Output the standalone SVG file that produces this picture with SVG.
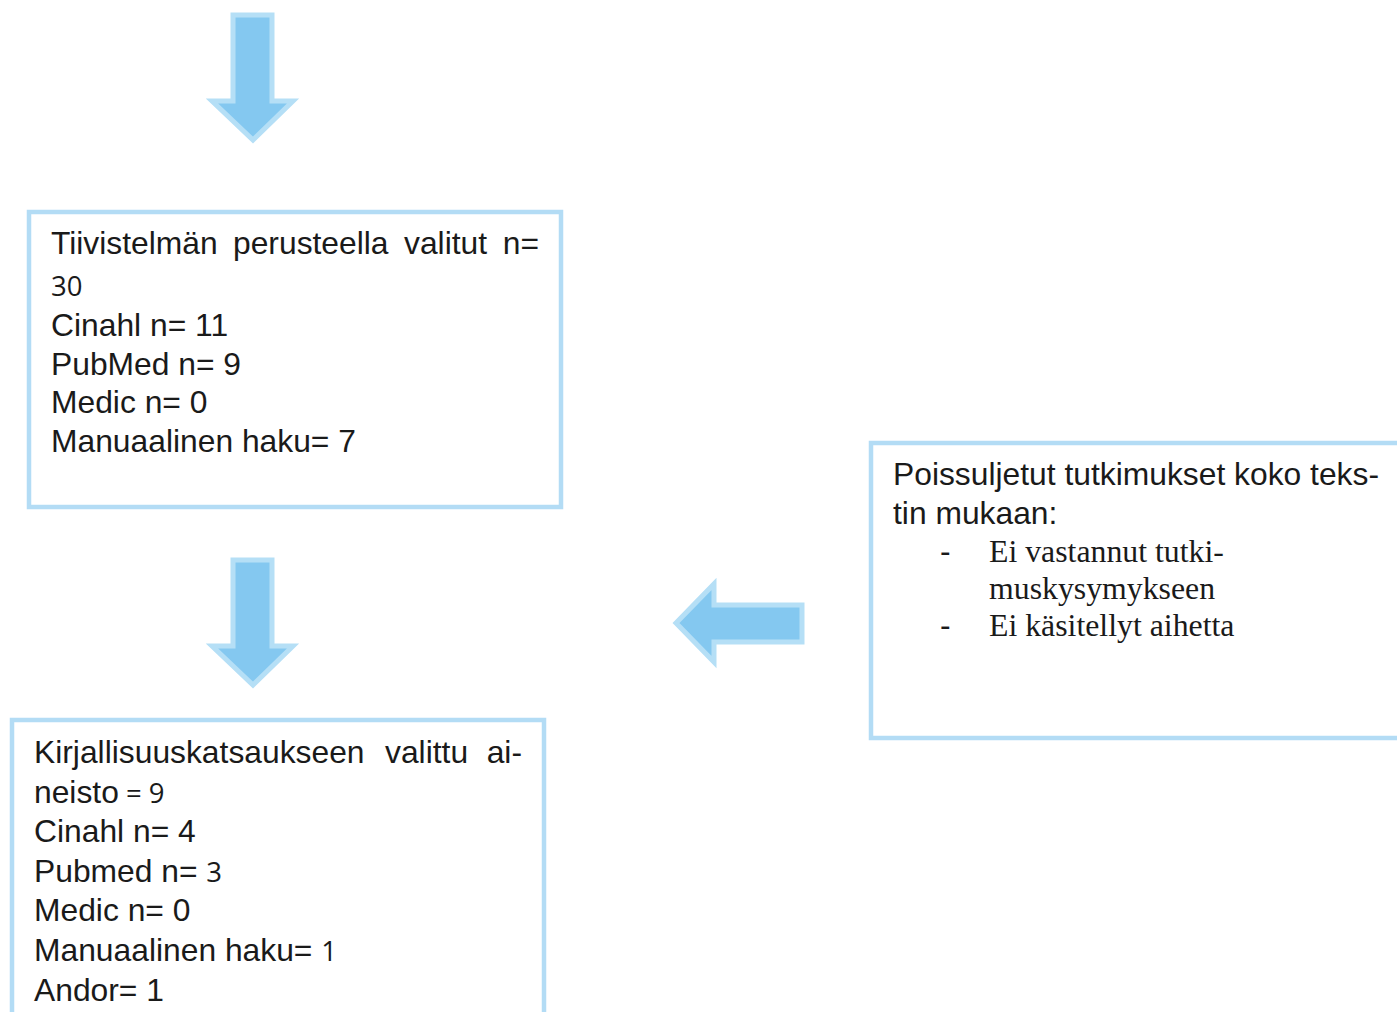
<svg xmlns="http://www.w3.org/2000/svg" width="1397" height="1012" viewBox="0 0 1397 1012">
<style>
.box{fill:#fff;stroke:#b3dcf5;stroke-width:4.5}
.arr{fill:#84c8f0;stroke:#b5dff6;stroke-width:5;stroke-linejoin:miter}
.t{font-family:"Liberation Sans",Arial,sans-serif;font-size:31.8px;fill:#1a1a1a}
.c{font-family:"Open Sans","Noto Sans",sans-serif;font-size:27.5px;fill:#1a1a1a}
.s{font-family:"Liberation Serif","Times New Roman",serif;font-size:31.8px;fill:#1a1a1a}
</style>
<rect width="1397" height="1012" fill="#fff"/>
<g id="connectors">
<path id="arrow-top" class="arr" d="M233,15 L272,15 L272,101 L293,101 L253,140 L212,101 L233,101 Z"/>
<path id="arrow-mid" class="arr" d="M233,560 L272,560 L272,646 L293,646 L253,685 L212,646 L233,646 Z"/>
<path id="arrow-left" class="arr" d="M676,623 L714,584 L714,605 L802,605 L802,642 L714,642 L714,662 Z"/>
</g>
<g id="node-tiivistelma">
<rect class="box" x="29" y="212" width="532" height="295"/>
<text class="t" y="254"><tspan x="51">Tiivistelmän</tspan><tspan x="233">perusteella</tspan><tspan x="404">valitut</tspan><tspan x="539" text-anchor="end">n=</tspan></text>
<text class="c" x="51" y="296">30</text>
<text class="t" x="51" y="336">Cinahl n= 11</text>
<text class="t" x="51" y="375">PubMed n= 9</text>
<text class="t" x="51" y="413">Medic n= 0</text>
<text class="t" x="51" y="452">Manuaalinen haku= 7</text>
</g>
<g id="node-poissuljetut">
<rect class="box" x="871" y="443" width="600" height="295"/>
<text class="t" x="893" y="485">Poissuljetut tutkimukset koko teks-</text>
<text class="t" x="893" y="524">tin mukaan:</text>
<text class="t" x="940" y="562">-</text>
<text class="s" x="989" y="562">Ei vastannut tutki-</text>
<text class="s" x="989" y="599">muskysymykseen</text>
<text class="t" x="940" y="636">-</text>
<text class="s" x="989" y="636">Ei käsitellyt aihetta</text>
</g>
<g id="node-kirjallisuuskatsaus">
<rect class="box" x="12" y="720" width="532" height="320"/>
<text class="t" y="763"><tspan x="34">Kirjallisuuskatsaukseen</tspan><tspan x="385">valittu</tspan><tspan x="522" text-anchor="end">ai-</tspan></text>
<text class="t" x="34" y="803">neisto<tspan class="c"> = 9</tspan></text>
<text class="t" x="34" y="842">Cinahl n= 4</text>
<text class="t" x="34" y="882">Pubmed n= <tspan class="c">3</tspan></text>
<text class="t" x="34" y="921">Medic n= 0</text>
<text class="t" x="34" y="961">Manuaalinen haku= <tspan class="c">1</tspan></text>
<text class="t" x="34" y="1001">Andor= 1</text>
</g>
</svg>
